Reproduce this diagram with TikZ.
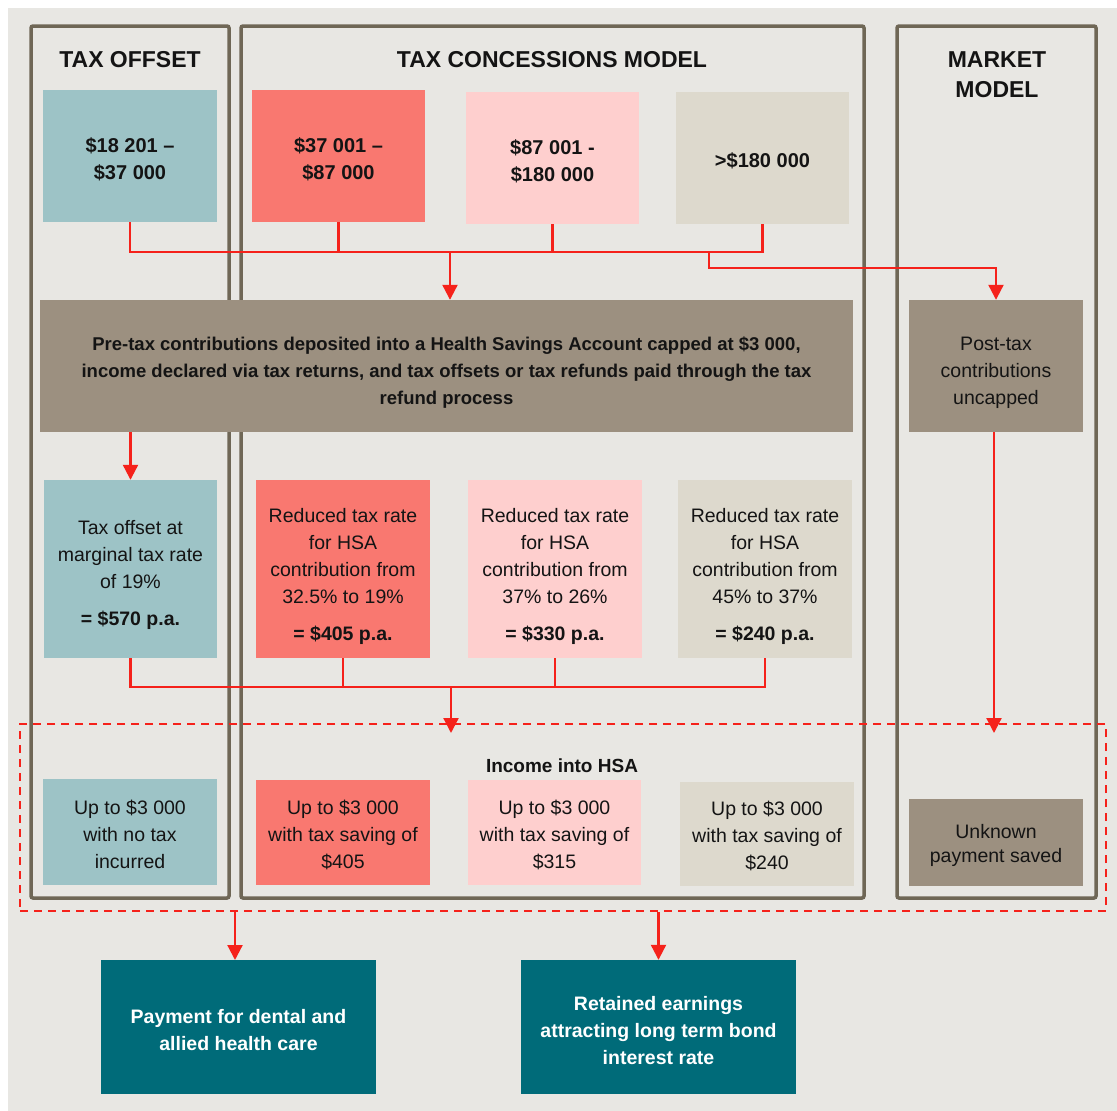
\documentclass[tikz,border=0pt]{standalone}
\usepackage{fontspec}
\setmainfont{Liberation Sans}
\usetikzlibrary{arrows.meta}
\definecolor{bgc}{HTML}{E8E7E3}
\definecolor{framec}{HTML}{6F6756}
\definecolor{tealc}{HTML}{9DC3C6}
\definecolor{salmonc}{HTML}{F97870}
\definecolor{pinkc}{HTML}{FECFCE}
\definecolor{beigec}{HTML}{DDD9CD}
\definecolor{brownc}{HTML}{9C9080}
\definecolor{darktealc}{HTML}{006B79}
\definecolor{linec}{HTML}{F5221B}
\definecolor{inkc}{HTML}{141414}
% strut that lowers a centred text block inside its box
\newcommand\lowr[1]{\rule{0pt}{#1pt}}
\tikzset{
  frame/.style={draw=framec, line width=3.5pt, rounded corners=2pt, inner sep=0pt},
  title/.style={font=\fontsize{23}{30}\selectfont\bfseries, text=inkc, align=center},
  box/.style={inner sep=0pt, align=center, text=inkc, font=\fontsize{19.5}{27}\selectfont},
  hbox/.style={box, font=\fontsize{20}{27}\selectfont\bfseries},
  tealbox/.style={box, fill=tealc},
  salmonbox/.style={box, fill=salmonc},
  pinkbox/.style={box, fill=pinkc},
  beigebox/.style={box, fill=beigec},
  brownbox/.style={box, fill=brownc},
  outbox/.style={box, fill=darktealc, text=white, font=\fontsize{19.5}{27}\selectfont\bfseries},
  conn/.style={draw=linec, line width=2.2pt},
  arr/.style={conn, -{Triangle[width=15pt,length=15pt]}},
  dashbox/.style={draw=linec, line width=2pt, dash pattern=on 8pt off 6pt, inner sep=0pt}
}
\begin{document}
\begin{tikzpicture}[x=1pt,y=-1pt]
\useasboundingbox (0,0) rectangle (1117,1111);
\fill[bgc] (8,8) rectangle (1117,1111);

% column frames
\node[frame, minimum width=198pt, minimum height=872pt] (frOff) at (130,462) {};
\node[frame, minimum width=623pt, minimum height=872pt] (frCon) at (552.5,462) {};
\node[frame, minimum width=199pt, minimum height=872pt] (frMkt) at (996.5,462) {};

% column titles
\node[title] (tOff) at (130,60) {TAX OFFSET};
\node[title] (tCon) at (552,60) {TAX CONCESSIONS MODEL};
\node[title] (tMkt) at (997,75) {MARKET\\MODEL};

% income brackets
\node[tealbox, hbox, minimum width=174pt, minimum height=132pt] (t1) at (130,156) {\lowr{21}\$18 201 –\\\$37 000};
\node[salmonbox, hbox, minimum width=173pt, minimum height=132pt] (t2) at (338.5,156) {\lowr{21}\$37 001 –\\\$87 000};
\node[pinkbox, hbox, minimum width=173pt, minimum height=132pt] (t3) at (552.5,158) {\lowr{21}\$87 001 -\\\$180 000};
\node[beigebox, hbox, minimum width=173pt, minimum height=132pt] (t4) at (762.5,158) {\lowr{21}>\$180 000};

% contribution rules
\node[brownbox, minimum width=813pt, minimum height=132pt, font=\fontsize{18.5}{27}\selectfont\bfseries] (pre) at (446.5,366)
  {\lowr{27}Pre-tax contributions deposited into a Health Savings Account capped at \$3 000,\\income declared via tax returns, and tax offsets or tax refunds paid through the tax\\refund process};
\node[brownbox, minimum width=174pt, minimum height=132pt] (post) at (996,366) {\lowr{27}Post-tax\\contributions\\uncapped};

% tax effect
\node[tealbox, minimum width=173pt, minimum height=178pt] (m1) at (130.5,569)
  {\lowr{27}Tax offset at\\marginal tax rate\\of 19\%\\[10pt]\textbf{= \$570 p.a.}};
\node[salmonbox, minimum width=174pt, minimum height=178pt] (m2) at (343,569)
  {\lowr{29}Reduced tax rate\\for HSA\\contribution from\\32.5\% to 19\%\\[10pt]\textbf{= \$405 p.a.}};
\node[pinkbox, minimum width=174pt, minimum height=178pt] (m3) at (555,569)
  {\lowr{29}Reduced tax rate\\for HSA\\contribution from\\37\% to 26\%\\[10pt]\textbf{= \$330 p.a.}};
\node[beigebox, minimum width=174pt, minimum height=178pt] (m4) at (765,569)
  {\lowr{29}Reduced tax rate\\for HSA\\contribution from\\45\% to 37\%\\[10pt]\textbf{= \$240 p.a.}};

% income into HSA
\node[dashbox, minimum width=1086pt, minimum height=187pt] (hsa) at (563,817.5) {};
\node[box, font=\fontsize{19}{24}\selectfont\bfseries] (hsaLbl) at (562,766) {Income into HSA};
\node[tealbox, minimum width=174pt, minimum height=106pt] (b1) at (130,832) {\lowr{19}Up to \$3 000\\with no tax\\incurred};
\node[salmonbox, minimum width=174pt, minimum height=105pt] (b2) at (343,832.5) {\lowr{19}Up to \$3 000\\with tax saving of\\\$405};
\node[pinkbox, minimum width=173pt, minimum height=105pt] (b3) at (554.5,832.5) {\lowr{19}Up to \$3 000\\with tax saving of\\\$315};
\node[beigebox, minimum width=174pt, minimum height=104pt] (b4) at (767,834) {\lowr{19}Up to \$3 000\\with tax saving of\\\$240};
\node[brownbox, minimum width=174pt, minimum height=87pt, font=\fontsize{19.5}{24}\selectfont] (b5) at (996,842.5) {\lowr{21}Unknown\\payment saved};

% outcomes
\node[outbox, minimum width=275pt, minimum height=134pt] (f1) at (238.5,1027) {\lowr{21}Payment for dental and\\allied health care};
\node[outbox, minimum width=275pt, minimum height=134pt] (f2) at (658.5,1027) {\lowr{21}Retained earnings\\attracting long term bond\\interest rate};

% junction points
\coordinate (busTop) at (450,252);
\coordinate (brk) at (709,252);
\coordinate (brk2) at (709,268);
\coordinate (busMid) at (451,687);
\coordinate (inHsa) at (451,733);
\coordinate (inMkt) at (994,733);

% brackets to contribution rules
\draw[conn] (t1.south) |- (busTop) -| (t4.south);
\draw[conn] (t2.south) -- (t2.south |- busTop);
\draw[conn] (t3.south) -- (t3.south |- busTop);
\draw[arr] (busTop) -- (busTop |- pre.north);
\draw[arr] (brk) -- (brk2) -| (post.north);

% rules to tax effect
\draw[arr] (m1.north |- pre.south) -- (m1.north);
\draw[conn] (m1.south) |- (busMid) -| (m4.south);
\draw[conn] (m2.south) -- (m2.south |- busMid);
\draw[conn] (m3.south) -- (m3.south |- busMid);
\draw[arr] (busMid) -- (inHsa);
\draw[arr] (inMkt |- post.south) -- (inMkt);

% HSA to outcomes
\draw[arr] (235,911) -- (235,960);
\draw[arr] (f2.north |- hsa.south) -- (f2.north);
\end{tikzpicture}
\end{document}
